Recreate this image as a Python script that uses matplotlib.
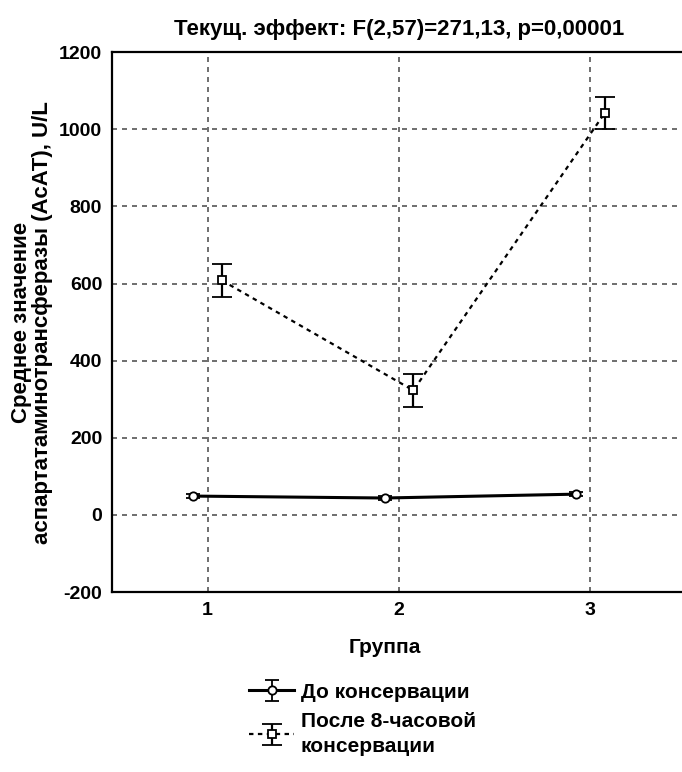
import matplotlib.pyplot as plt

plt.rcParams['font.family'] = ['Liberation Sans', 'DejaVu Sans']
plt.rcParams['font.weight'] = 'bold'
plt.rcParams['axes.unicode_minus'] = False

groups = [1, 2, 3]
before_mean = [49, 44, 54]
before_err = [5, 5, 5]
after_mean = [608, 323, 1042]
after_err = [42, 42, 41]
offset = 0.075

fig = plt.figure(figsize=(6.82, 7.72), dpi=100)
ax = fig.add_axes([0.164, 0.233, 0.842, 0.6995])

xb = [g - offset for g in groups]
xa = [g + offset for g in groups]

h1 = ax.errorbar(xb, before_mean, yerr=before_err, color='black', lw=2.2,
                 marker='o', ms=6, mfc='white', mec='black', mew=1.3,
                 capsize=5, elinewidth=1.3, capthick=1.3)
h2 = ax.errorbar(xa, after_mean, yerr=after_err, color='black', lw=1.6, ls=(0, (2, 2)),
                 marker='s', ms=6, mfc='white', mec='black', mew=1.3,
                 capsize=7, elinewidth=1.6, capthick=1.6)

ax.set_xlim(0.5, 3.5)
ax.set_ylim(-200, 1200)
ax.set_xticks(groups)
ax.set_yticks(range(-200, 1201, 200))
ax.grid(True, ls=(0, (3, 3)), color='#555555', lw=1.2)
ax.tick_params(labelsize=14, length=0, pad=7)
for s in ax.spines.values():
    s.set_linewidth(1.6)
ax.spines['right'].set_visible(False)

ax.set_title('Текущ. эффект: F(2,57)=271,13, p=0,00001', fontsize=16, fontweight='bold', pad=12)
ax.set_xlabel('Группа', fontsize=15, fontweight='bold', labelpad=14)
ax.xaxis.set_label_coords(0.476, -0.085)
ax.set_ylabel('Среднее значение\nаспартатаминотрансферазы (АсАТ), U/L', fontsize=16,
              fontweight='bold', labelpad=4, linespacing=1.05)

leg = fig.legend([h1, h2], ['До консервации', 'После 8-часовой\nконсервации'],
                 loc='upper left', bbox_to_anchor=(0.337, 0.14), frameon=False,
                 fontsize=15, handlelength=2.2, handletextpad=0.3, labelspacing=0.5)
for t in leg.get_texts():
    t.set_linespacing(1.4)

fig.savefig('out.png', dpi=100)
